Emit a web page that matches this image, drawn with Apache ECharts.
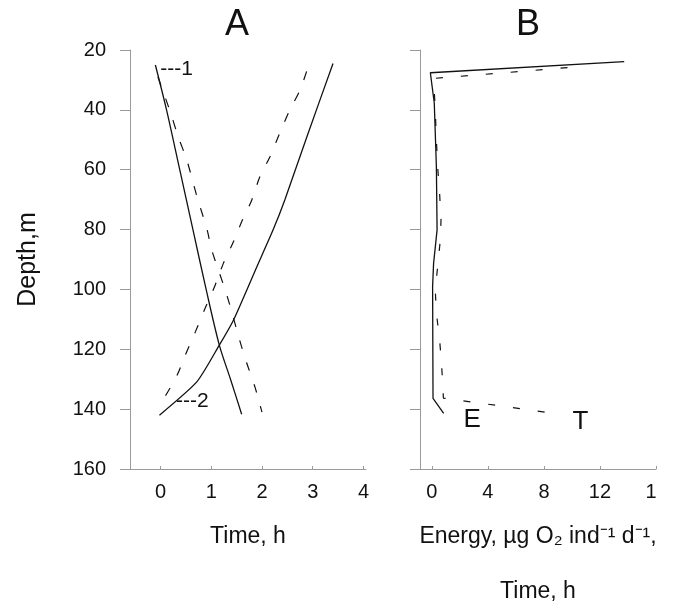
<!DOCTYPE html>
<html>
<head>
<meta charset="utf-8">
<script src="https://cdn.jsdelivr.net/npm/echarts@6/dist/echarts.min.js"></script>
<style>
html,body{margin:0;padding:0;background:#fff;}
#c{width:675px;height:602px;}
</style>
</head>
<body>
<div id="c"></div>
<script>
// ---- data (x = time/energy, y = depth, m) ----
const line1Solid  = [[-0.1,25],[0.12,40],[0.38,60],[0.64,80],[0.9,100],[1.16,118.6],[1.38,130],[1.6,141.7]];
const line1Dashed = [[-0.05,29],[0.2,41],[0.35,49],[0.52,56.8],[0.72,69],[0.92,80.1],[1.01,86.8],[1.31,102],[1.57,117.5],[1.7,124.6],[1.86,132.5],[2.0,141]];
const line2Solid  = [[-0.02,142],[0.72,130.8],[1.16,118.6],[1.44,110.2],[1.9,92.4],[2.22,80.1],[2.45,70.1],[2.91,47.8],[3.4,24.5]];
const line2Dashed = [[0.1,135.5],[0.33,128.6],[0.49,121.9],[0.69,114.1],[0.88,106.3],[1.08,98.5],[1.24,91.3],[1.44,84],[1.6,77.4],[1.8,70.1],[1.96,62.3],[2.16,55.6],[2.35,47.8],[2.55,40],[2.75,33.4],[2.94,24]];
const energyE = [[13.73,23.9],[-0.11,27.6],[0.17,37.8],[0.32,59],[0.37,80.1],[0.12,91.3],[0.05,99],[0.08,136.4],[0.84,141.4]];
const timeT   = [[9.68,25.9],[0.12,29.5],[0.24,40],[0.32,50],[0.41,59],[0.55,67.9],[0.65,76.8],[0.6,83.5],[0.41,92.4],[0.24,100.2],[0.32,108],[0.53,115.8],[0.67,123.6],[0.77,131.4],[0.82,136.3],[8.72,141.4]];
const notesA = [[0.32,26.3,'---1'],[0.63,137.3,'---2']];
const notesB = [[2.87,143.6,'E'],[10.6,144.2,'T']];
const timeTicksA = [0,1,2,3,4];
const ticksB = [0,4,8,12,16];
const tickTextB = ['0','4','8','12','1'];

const FONT = '"Liberation Sans", Arial, sans-serif';
const INK = '#111111';
const AX = '#9a9a9a';

const chart = echarts.init(document.getElementById('c'), null, {renderer:'canvas'});

function yAxis(gridIndex, showLabels){
  return {
    type:'value', gridIndex, inverse:true, min:20, max:160, interval:20,
    axisLine:{show:true, onZero:false, lineStyle:{color:AX, width:1}},
    axisTick:{show:true, inside:false, length:10, lineStyle:{color:AX, width:1}},
    axisLabel:{show:showLabels, fontSize:20, color:INK, fontFamily:FONT, margin:24},
    splitLine:{show:false},
    name: showLabels ? 'Depth,m' : '',
    nameLocation:'middle', nameGap:89,
    nameTextStyle:{fontSize:25, color:INK, fontFamily:FONT}
  };
}

const noteLabel = (size) => ({show:true, position:'inside', formatter:p=>p.data[2], fontSize:size,
  color:INK, opacity:1, fontFamily:FONT, textBorderWidth:0, textBorderColor:'transparent'});

const option = {
  animation:false,
  backgroundColor:'#fff',
  title:[
    {text:'A', left:232, top:2, textAlign:'center', textStyle:{fontSize:36, fontWeight:'normal', color:INK, fontFamily:FONT}},
    {text:'B', left:523, top:2, textAlign:'center', textStyle:{fontSize:36, fontWeight:'normal', color:INK, fontFamily:FONT}}
  ],
  grid:[
    {left:130, top:50, width:236, height:419, containLabel:false, outerBoundsMode:'none'},
    {left:420, top:50, width:236, height:419, containLabel:false, outerBoundsMode:'none'}
  ],
  xAxis:[
    {type:'value', gridIndex:0, min:-0.6, max:4.05,
     axisLine:{show:true, onZero:false, lineStyle:{color:AX, width:1}},
     axisTick:{show:true, inside:true, length:3, customValues:timeTicksA, lineStyle:{color:AX}},
     axisLabel:{show:true, customValues:timeTicksA, fontSize:20, color:INK, fontFamily:FONT, margin:13},
     splitLine:{show:false},
     name:'Time, h', nameLocation:'middle', nameGap:40,
     nameTextStyle:{fontSize:23, color:INK, fontFamily:FONT, lineHeight:55}},
    {type:'value', gridIndex:1, min:-0.85, max:16,
     axisLine:{show:true, onZero:false, lineStyle:{color:AX, width:1}},
     axisTick:{show:true, inside:true, length:3, customValues:ticksB, lineStyle:{color:AX}},
     axisLabel:{show:true, customValues:ticksB, fontSize:20, color:INK, fontFamily:FONT, margin:13,
       formatter:function(v){ const t = tickTextB[ticksB.indexOf(v)]; return v===16 ? '{r|'+t+'}' : t; },
       rich:{r:{fontSize:20, color:INK, fontFamily:FONT, padding:[0,10,0,0]}}},
     splitLine:{show:false},
     name:'Energy, µg O\u2082 ind\u207B\u00B9 d\u207B\u00B9,\nTime, h', nameLocation:'middle', nameGap:40,
     nameTextStyle:{fontSize:23, color:INK, fontFamily:FONT, lineHeight:55}}
  ],
  yAxis:[yAxis(0,true), yAxis(1,false)],
  series:[
    {type:'line', xAxisIndex:0, yAxisIndex:0, data:line1Solid, symbol:'none', smooth:0.3, lineStyle:{color:INK, width:1.3}},
    {type:'line', xAxisIndex:0, yAxisIndex:0, data:line1Dashed, symbol:'none', smooth:0.3, lineStyle:{color:INK, width:1.2, type:[9,14]}},
    {type:'line', xAxisIndex:0, yAxisIndex:0, data:line2Solid, symbol:'none', smooth:0.2, lineStyle:{color:INK, width:1.3}},
    {type:'line', xAxisIndex:0, yAxisIndex:0, data:line2Dashed, symbol:'none', smooth:0.3, lineStyle:{color:INK, width:1.2, type:[9,14]}},
    {type:'line', xAxisIndex:1, yAxisIndex:1, data:energyE, symbol:'none', lineStyle:{color:INK, width:1.3}},
    {type:'line', xAxisIndex:1, yAxisIndex:1, data:timeT, symbol:'none', lineStyle:{color:INK, width:1.2, type:[7,18]}},
    {type:'scatter', xAxisIndex:0, yAxisIndex:0, data:notesA, symbolSize:0, encode:{x:0,y:1}, itemStyle:{opacity:1}, label:noteLabel(21)},
    {type:'scatter', xAxisIndex:1, yAxisIndex:1, data:notesB, symbolSize:0, encode:{x:0,y:1}, itemStyle:{opacity:1}, label:noteLabel(26)}
  ]
};
chart.setOption(option);
</script>
</body>
</html>
